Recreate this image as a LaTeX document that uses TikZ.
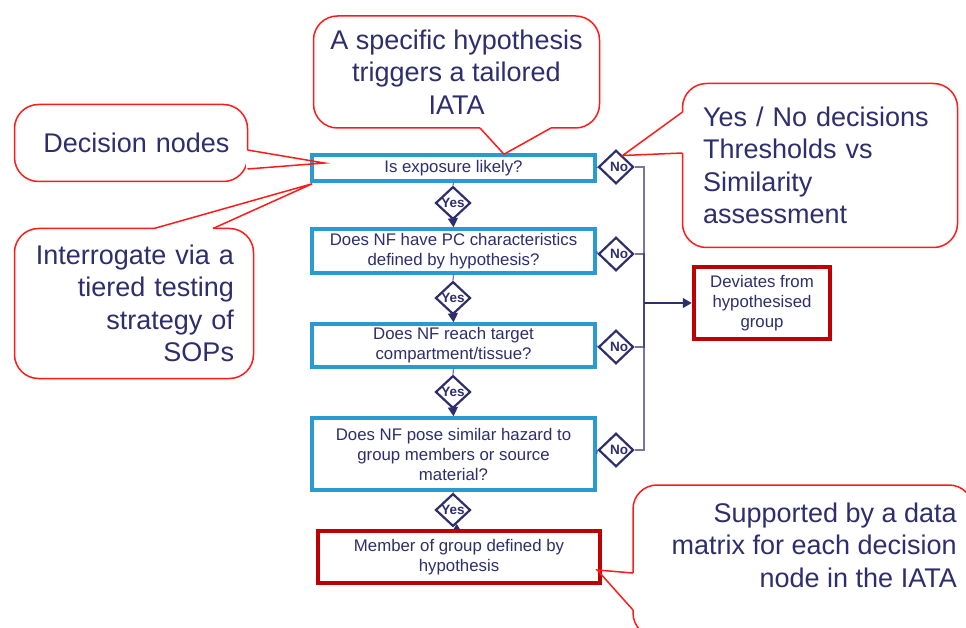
\documentclass[tikz,border=0pt]{standalone}
\usepackage{fontspec}
\setmainfont{Liberation Sans}
\usetikzlibrary{shapes.geometric,arrows.meta,calc}
\definecolor{navy}{HTML}{2E2E6E}
\definecolor{dblue}{HTML}{2A9BD1}
\definecolor{dred}{HTML}{C00000}
\definecolor{cred}{HTML}{FF1A1A}
\begin{document}
\begin{tikzpicture}[x=1pt,y=-1pt,
  decbox/.style={draw=dblue, line width=3.5pt, fill=white, text=navy, align=center, inner sep=0pt, font=\fontsize{16.8}{20}\selectfont},
  endbox/.style={draw=dred, line width=4pt, fill=white, text=navy, align=center, inner sep=0pt, font=\fontsize{16.8}{20}\selectfont},
  gate/.style={diamond, draw=navy, line width=2.2pt, fill=white, text=navy, inner sep=0pt, minimum width=35pt, minimum height=31pt, font=\bfseries\fontsize{13.5}{15}\selectfont},
  callout/.style={draw=cred, line width=1.5pt, fill=white, rounded corners=24pt, outer sep=0pt, text=navy, font=\fontsize{27}{32.5}\selectfont},
  calltext/.style={text=navy, inner sep=0pt, font=\fontsize{27}{32.5}\selectfont},
  ptr/.style={draw=cred, line width=1.5pt, line join=miter},
  gap/.style={draw=white, line width=3pt},
  link/.style={draw=navy, line width=1.2pt, draw opacity=0.65},
  flow/.style={draw=navy, line width=1.3pt, -{Triangle[length=9pt,width=10pt]}},
  flowup/.style={draw=navy, line width=1.3pt, -{Triangle[length=6pt,width=7pt]}},
]
\useasboundingbox (0,0) rectangle (966,628);
\clip (0,0) rectangle (966,628);

% decision boxes
\node[decbox, minimum width=283pt, minimum height=26pt] (q1) at (453.5,168) {Is exposure likely?};
\node[decbox, minimum width=283pt, minimum height=44pt] (q2) at (453.5,251) {Does NF have PC characteristics\\defined by hypothesis?};
\node[decbox, minimum width=283pt, minimum height=43pt] (q3) at (453.5,345.5) {Does NF reach target\\compartment/tissue?};
\node[decbox, minimum width=283pt, minimum height=72pt] (q4) at (453.5,454) {Does NF pose similar hazard to\\group members or source\\material?};

% outcome boxes
\node[endbox, minimum width=282.5pt, minimum height=52.5pt] (mem) at (459,557) {Member of group defined by\\hypothesis};
\node[endbox, minimum width=136.5pt, minimum height=72.5pt] (dev) at (762,303) {Deviates from\\hypothesised\\group};

% yes gates
\node[gate] (y1) at (453,203) {Yes};
\node[gate] (y2) at (453,298) {Yes};
\node[gate] (y3) at (453,392) {Yes};
\node[gate] (y4) at (453,510) {Yes};

% no gates
\node[gate] (n1) at (616,167) {\hspace{6pt}No};
\node[gate] (n2) at (616,254) {\hspace{6pt}No};
\node[gate] (n3) at (616,347) {\hspace{6pt}No};
\node[gate] (n4) at (616,450) {\hspace{6pt}No};

% yes connectors
\draw[link] (q1.south) -- (y1.north);
\draw[flow] (y1.south) -- (q2.north);
\draw[link] (q2.south) -- (y2.north);
\draw[flow] (y2.south) -- (q3.north);
\draw[link] (q3.south) -- (y3.north);
\draw[flow] (y3.south) -- (q4.north);
\draw[link] (q4.south) -- (y4.north);
\draw[flowup] (mem.north -| y4.-75) -- (y4.-75);

% no connectors
\coordinate (jn) at (644,303);
\draw[link] (q1.east) -- (n1.west);
\draw[link] (q2.east) -- (n2.west);
\draw[link] (q3.east) -- (n3.west);
\draw[link] (q4.east) -- (n4.west);
\draw[link] (n1.east) -| (jn);
\draw[link] (n2.east) -| (jn);
\draw[link] (n3.east) -| (jn);
\draw[link] (n4.east) -| (jn);
\draw[flow] (jn) -- (dev.west);

% callouts
\node[callout, minimum width=286pt, minimum height=112pt, align=center] (cA) at (456.5,72) {A specific hypothesis\\triggers a tailored\\IATA};
\draw[gap] (480,128) -- (551,128);
\draw[ptr] (480,128) -- ($(q1.north)+(50.5,1)$) -- (551,128);

\node[callout, minimum width=233pt, minimum height=77pt, align=right, text width=197pt] (cD) at (131,143) {Decision nodes};
\draw[gap] (247.5,150) -- (247.5,169);
\draw[ptr] (247.5,150) -- ($(q1.west)+(14,-5)$) -- (247.5,169);

\node[callout, minimum width=239pt, minimum height=150pt, align=right, text width=200pt] (cI) at (134,303.5) {Interrogate via a\\tiered testing\\strategy of\\SOPs};
\draw[gap] (154,228.5) -- (213,228.5);
\draw[ptr] (154,228.5) -- ($(q1.south west)+(2,1)$) -- (213,228.5);

\node[callout, minimum width=275pt, minimum height=164pt, align=left, text width=234pt] (cY) at (820,165.5) {Yes / No decisions\\Thresholds vs\\Similarity\\assessment};
\draw[gap] (682.5,112) -- (682.5,153);
\draw[ptr] (682.5,112) -- (n1.60) -- (682.5,153);

\node[callout, minimum width=340pt, minimum height=152pt] (cS) at (803,561) {};
\node[calltext, align=right, anchor=east] (tS) at (957,545) {Supported by a data\\matrix for each decision\\node in the IATA};
\draw[gap] (633,573) -- (633,610);
\draw[ptr] (633,573) -- ($(mem.east)+(-5,13)$) -- (633,610);
\end{tikzpicture}
\end{document}
